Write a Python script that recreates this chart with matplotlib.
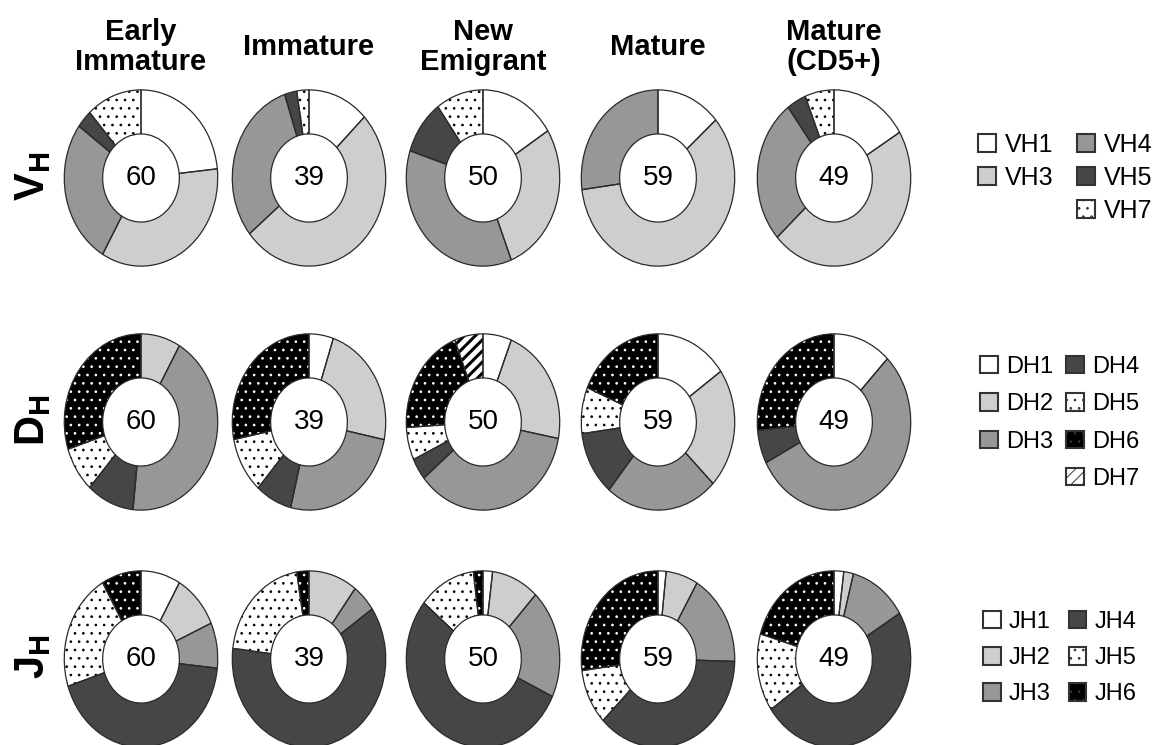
import matplotlib
matplotlib.use('Agg')
import matplotlib.pyplot as plt
from matplotlib.patches import Patch

plt.rcParams['font.family'] = ['Liberation Sans', 'DejaVu Sans']
plt.rcParams['mathtext.fontset'] = 'custom'
plt.rcParams['mathtext.bf'] = 'Liberation Sans:bold'
plt.rcParams['mathtext.rm'] = 'Liberation Sans'
plt.rcParams['hatch.linewidth'] = 0.7

# groups and number of sequences per group
groups = ['Early\nImmature', 'Immature', 'New\nEmigrant', 'Mature', 'Mature\n(CD5+)']
totals = [60, 39, 50, 59, 49]

# VH family counts per group
vh_labels = ['VH1', 'VH3', 'VH4', 'VH5', 'VH7']
vh_counts = [[14, 21, 16, 2, 7],
             [5, 20, 12, 1, 1],
             [8, 14, 18, 5, 5],
             [8, 35, 16, 0, 0],
             [8, 23, 13, 2, 3]]

# DH family counts per group
dh_labels = ['DH1', 'DH2', 'DH3', 'DH4', 'DH5', 'DH6', 'DH7']
dh_counts = [[0, 5, 26, 6, 5, 18, 0],
             [2, 9, 10, 3, 4, 11, 0],
             [3, 11, 18, 2, 3, 10, 3],
             [9, 13, 14, 7, 5, 11, 0],
             [6, 0, 27, 3, 0, 13, 0]]

# JH family counts per group
jh_labels = ['JH1', 'JH2', 'JH3', 'JH4', 'JH5', 'JH6']
jh_counts = [[5, 6, 5, 26, 13, 5],
             [0, 4, 2, 24, 8, 1],
             [1, 5, 10, 27, 6, 1],
             [1, 4, 10, 22, 6, 16],
             [1, 1, 6, 24, 7, 10]]

row_names = [r'$\mathbf{V}_\mathbf{H}$', r'$\mathbf{D}_\mathbf{H}$', r'$\mathbf{J}_\mathbf{H}$']

# fill style for each family slot: (face, hatch, hatch colour, hatch width)
styles = [('white', '', 'white', 0.7),
          ('#cecece', '', '#cecece', 0.7),
          ('#979797', '', '#979797', 0.7),
          ('#464646', '', '#464646', 0.7),
          ('white', '..', 'black', 0.7),
          ('black', '..', 'white', 0.7),
          ('white', '///', 'black', 2.2)]
v_style = [styles[0], styles[1], styles[2], styles[3], styles[4]]
d_style = styles
j_style = styles[:6]

W, H = 1167, 745
fig = plt.figure(figsize=(W / 100, H / 100), dpi=100)

col_x = [141, 309, 483, 658, 834]
row_y = [178, 422, 659]
dw, dh = 155, 178
edge = '#2a2a2a'


def set_hatch(p, hat, hw):
    p.set_hatch(hat)
    if hasattr(p, 'set_hatch_linewidth'):
        p.set_hatch_linewidth(hw)


def donut(cx, cy, counts, sty, total):
    ax = fig.add_axes([(cx - dw / 2) / W, 1 - (cy + dh / 2) / H, dw / W, dh / H])
    vals = [c for c in counts if c > 0]
    st = [s for c, s in zip(counts, sty) if c > 0]
    wed, _ = ax.pie(vals, startangle=90, counterclock=False, radius=1,
                    wedgeprops=dict(width=0.5, linewidth=0))
    for w, (fc, hat, hc, hw) in zip(wed, st):
        w.set_facecolor(fc)
        w.set_edgecolor(hc)
        set_hatch(w, hat, hw)
    ax.pie(vals, startangle=90, counterclock=False, radius=1,
           wedgeprops=dict(width=0.5, linewidth=0.9, edgecolor=edge, fill=False))
    ax.set_aspect('auto')
    ax.set_xlim(-1.01, 1.01)
    ax.set_ylim(-1.01, 1.01)
    ax.axis('off')
    ax.text(0, 0, str(total), ha='center', va='center', fontsize=20)


for i in range(5):
    donut(col_x[i], row_y[0], vh_counts[i], v_style, totals[i])
    donut(col_x[i], row_y[1], dh_counts[i], d_style, totals[i])
    donut(col_x[i], row_y[2], jh_counts[i], j_style, totals[i])
    fig.text(col_x[i] / W, 1 - 47 / H, groups[i], ha='center', va='center',
             fontsize=21, fontweight='bold', linespacing=1.05)

for r in range(3):
    fig.text(33 / W, 1 - (row_y[r] - 2) / H, row_names[r], rotation=90,
             ha='center', va='center', fontsize=30)


def handle(s):
    fc, hat, hc, hw = s
    p = Patch(facecolor=fc, edgecolor='#333333', linewidth=1.5)
    set_hatch(p, hat, min(hw, 1.5))
    return p


blank = Patch(facecolor='none', edgecolor='none')

# VH legend
h = [handle(v_style[0]), handle(v_style[1]), blank,
     handle(v_style[2]), handle(v_style[3]), handle(v_style[4])]
l = [vh_labels[0], vh_labels[1], '', vh_labels[2], vh_labels[3], vh_labels[4]]
fig.legend(h, l, ncol=2, loc='upper left', bbox_to_anchor=(978 / W, 1 - 133 / H),
           frameon=False, fontsize=18, handlelength=0.72, handleheight=0.72,
           handletextpad=0.35, columnspacing=0.95, labelspacing=0.36,
           borderpad=0, borderaxespad=0)

# DH legend
h = [handle(d_style[k]) for k in range(3)] + [blank] + [handle(d_style[k]) for k in range(3, 7)]
l = dh_labels[:3] + [''] + dh_labels[3:]
fig.legend(h, l, ncol=2, loc='upper left', bbox_to_anchor=(980 / W, 1 - 356 / H),
           frameon=False, fontsize=17, handlelength=0.75, handleheight=0.75,
           handletextpad=0.35, columnspacing=0.55, labelspacing=0.65,
           borderpad=0, borderaxespad=0)

# JH legend
h = [handle(j_style[k]) for k in range(6)]
fig.legend(h, jh_labels, ncol=2, loc='upper left', bbox_to_anchor=(983 / W, 1 - 611 / H),
           frameon=False, fontsize=17, handlelength=0.75, handleheight=0.75,
           handletextpad=0.35, columnspacing=0.75, labelspacing=0.6,
           borderpad=0, borderaxespad=0)

fig.savefig('out.png', dpi=100, facecolor='white')
